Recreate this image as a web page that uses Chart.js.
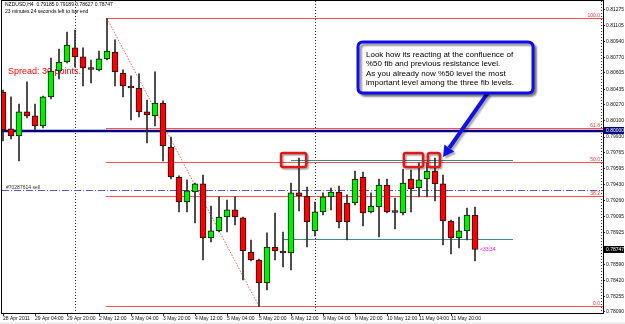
<!DOCTYPE html>
<html><head><meta charset="utf-8">
<script src="https://cdn.jsdelivr.net/npm/chart.js@4.4.0/dist/chart.umd.min.js"></script>
<style>html,body{margin:0;padding:0;background:#fff;overflow:hidden}canvas{display:block}</style>
</head><body>
<canvas id="c" width="625" height="324"></canvas>
<script>
// ---- data (NZDUSD H4) ----
const openP = [0.80405,0.80016,0.79942,0.80195,0.80153,0.80047,0.80353,0.80626,0.80721,0.80869,
0.80774,0.80647,0.80637,0.80753,0.80826,0.80605,0.80468,0.80447,0.80195,0.80153,
0.80289,0.79826,0.79510,0.79247,0.79352,0.79437,0.78868,0.78942,0.79089,0.79163,
0.79079,0.78720,0.78636,0.78394,0.78773,0.78731,0.78710,0.79342,0.79310,0.78942,
0.79142,0.79300,0.79352,0.79236,0.79236,0.79510,0.79142,0.79194,0.79426,0.79142,
0.79131,0.79489,0.79394,0.79489,0.79573,0.79437,0.79047,0.78868,0.78942,0.79110];
const highP = [0.80426,0.80353,0.80279,0.80511,0.80279,0.80363,0.80763,0.80858,0.81037,0.81058,
0.80869,0.80742,0.80837,0.81179,0.80953,0.80637,0.80574,0.80595,0.80321,0.80616,
0.80311,0.79931,0.79521,0.79479,0.79447,0.79531,0.79205,0.79300,0.79268,0.79300,
0.79089,0.78847,0.78647,0.78921,0.79131,0.78931,0.79447,0.79710,0.79405,0.79247,
0.79342,0.79394,0.79415,0.79321,0.79573,0.79563,0.79342,0.79489,0.79489,0.79289,
0.79594,0.79584,0.79658,0.79658,0.79710,0.79531,0.79057,0.79089,0.79184,0.79194];
const lowP = [0.79889,0.79910,0.79679,0.80132,0.80005,0.80026,0.80332,0.80542,0.80711,0.80669,
0.80468,0.80500,0.80626,0.80742,0.80468,0.80353,0.80110,0.80142,0.79868,0.80047,
0.79679,0.79489,0.79142,0.79142,0.79026,0.78636,0.78826,0.78931,0.78931,0.79005,
0.78426,0.78626,0.78147,0.78320,0.78636,0.78563,0.78531,0.79152,0.78773,0.78889,
0.79110,0.79163,0.78973,0.78847,0.79215,0.78994,0.79131,0.78878,0.79131,0.78963,
0.79110,0.79142,0.79300,0.79300,0.79258,0.78794,0.78699,0.78763,0.78847,0.78627];
const closeP = [0.80005,0.79942,0.80195,0.80153,0.80047,0.80353,0.80626,0.80721,0.80900,0.80774,
0.80658,0.80642,0.80753,0.80837,0.80616,0.80468,0.80447,0.80195,0.80163,0.80289,
0.79837,0.79510,0.79247,0.79363,0.79437,0.78868,0.78942,0.79089,0.79163,0.79089,
0.78731,0.78636,0.78394,0.78773,0.78731,0.78710,0.79342,0.79310,0.79036,0.79142,
0.79300,0.79352,0.79036,0.79036,0.79489,0.79131,0.79205,0.79426,0.79142,0.79136,
0.79447,0.79384,0.79479,0.79573,0.79437,0.79047,0.78868,0.78942,0.79110,0.78747];

const xTickIndex = [0,4,8,12,16,20,24,28,32,36,40,44,48,52,56];
const xTickLabels = ["28 Apr 2011","29 Apr 04:00","29 Apr 20:00","2 May 12:00","3 May 04:00",
  "3 May 20:00","4 May 12:00","5 May 04:00","5 May 20:00","6 May 12:00","9 May 04:00",
  "9 May 20:00","10 May 12:00","11 May 04:00","11 May 20:00"];
const yTicks = [0.81275,0.81105,0.80940,0.80770,0.80605,0.80435,0.80270,0.80100,0.79930,0.79765,
  0.79595,0.79430,0.79260,0.79095,0.78925,0.78755,0.78590,0.78420,0.78255,0.78090];

const fibLevels = [0, 38.2, 50, 61.8, 100];
const fibLabels = ["0.0", "38.2", "50.0", "61.8", "100.0"];
const fibHighIndex = 13, fibLowIndex = 32;
const roundLevel = 0.80000;
const sellLevel = 0.79368;
const sellLabel = "#70287614 sell";
const resistanceLevel = 0.79689;
const supportLevel = 0.78857;
const separators = [9, 39, 74.75];
const lastPrice = 0.78747;
const headerLine1 = "NZDUSD,H4  0.79185 0.79189 0.78627 0.78747";
const headerLine2 = "23 minutes 24 seconds left to bar end";
const spreadText = "Spread: 30 points.";
const barTimer = "<33:34";
const calloutLines = ["Look how its reacting at the confluence of",
  "%50 fib and previous resistance level.",
  "As you already now %50 level the most",
  "important level among the three fib levels."];

// annotation geometry in data units (index, price)
const resSegment = [36, 63.75], supSegment = [35, 63.75];
const redBoxes = [[34.75, 37.9], [50.1, 52.5], [53.1, 54.6]];
const redBoxPrice = [0.79763, 0.79615];
const callout = {x0: 44.375, x1: 66.25, top: 0.80932, bottom: 0.80395};
const arrow = {x0: 60.6, y0: 0.80395, x1: 55.0, y1: 0.79721};

const FONT = '"Liberation Sans", Arial, sans-serif';

function rr(ctx, x, y, w, h, r) {
  ctx.beginPath();
  ctx.moveTo(x + r, y); ctx.lineTo(x + w - r, y); ctx.quadraticCurveTo(x + w, y, x + w, y + r);
  ctx.lineTo(x + w, y + h - r); ctx.quadraticCurveTo(x + w, y + h, x + w - r, y + h);
  ctx.lineTo(x + r, y + h); ctx.quadraticCurveTo(x, y + h, x, y + h - r);
  ctx.lineTo(x, y + r); ctx.quadraticCurveTo(x, y, x + r, y); ctx.closePath();
}
function seg(ctx, x0, y0, x1, y1) { ctx.beginPath(); ctx.moveTo(x0, y0); ctx.lineTo(x1, y1); ctx.stroke(); }

const mt4 = {
  id: 'mt4',
  beforeDraw(chart) {
    const c = chart.ctx; c.save(); c.fillStyle = '#fff'; c.fillRect(0, 0, chart.width, chart.height); c.restore();
  },
  beforeDatasetsDraw(chart) {
    const {ctx, chartArea: a, scales: {x, y}} = chart;
    ctx.save();
    ctx.beginPath(); ctx.rect(a.left, a.top, a.right - a.left, a.bottom - a.top); ctx.clip();
    ctx.lineWidth = 1;
    // period separators
    ctx.strokeStyle = '#333'; ctx.setLineDash([1, 2]);
    separators.forEach(i => { const px = Math.round(x.getPixelForValue(i)) + 0.5; seg(ctx, px, a.top, px, a.bottom); });
    // spread text
    ctx.setLineDash([]);
    ctx.font = '9px ' + FONT; ctx.fillStyle = '#ff0000'; ctx.textBaseline = 'middle'; ctx.textAlign = 'left';
    ctx.fillText(spreadText, a.left + 6, a.top + 71);
    // fibonacci
    const fH = highP[fibHighIndex], fL = lowP[fibLowIndex];
    const fx0 = x.getPixelForValue(fibHighIndex) - 1;
    ctx.strokeStyle = '#ff4f4f';
    ctx.font = '5px ' + FONT; ctx.fillStyle = '#ff3030'; ctx.textAlign = 'right'; ctx.textBaseline = 'alphabetic';
    fibLevels.forEach((l, k) => {
      const py = Math.round(y.getPixelForValue(fL + (fH - fL) * l / 100)) + 0.5;
      seg(ctx, fx0, py, a.right, py);
      ctx.fillText(fibLabels[k], a.right - 3, py - 1.5);
    });
    ctx.setLineDash([1.5, 1.5]); ctx.strokeStyle = '#ff5a5a';
    seg(ctx, x.getPixelForValue(fibHighIndex), y.getPixelForValue(fH), x.getPixelForValue(fibLowIndex), y.getPixelForValue(fL));
    // round level (navy)
    ctx.setLineDash([]); ctx.strokeStyle = '#000080'; ctx.lineWidth = 2.5;
    const ny = y.getPixelForValue(roundLevel) + 0.5;
    seg(ctx, a.left, ny, a.right, ny);
    // sell order line
    ctx.lineWidth = 1; ctx.strokeStyle = '#5a5ac0'; ctx.setLineDash([7, 2, 1, 2]);
    const sy = Math.round(y.getPixelForValue(sellLevel)) + 0.5;
    seg(ctx, a.left, sy, a.right, sy);
    ctx.setLineDash([]);
    ctx.fillStyle = '#333'; ctx.textAlign = 'left';
    ctx.fillText(sellLabel, a.left + 4, sy - 1.5);
    // resistance / support (teal)
    ctx.strokeStyle = '#3f8c8c';
    const ry = Math.round(y.getPixelForValue(resistanceLevel)) + 0.5;
    seg(ctx, x.getPixelForValue(resSegment[0]), ry, x.getPixelForValue(resSegment[1]), ry);
    const uy = Math.round(y.getPixelForValue(supportLevel)) + 0.5;
    seg(ctx, x.getPixelForValue(supSegment[0]), uy, x.getPixelForValue(supSegment[1]), uy);
    ctx.restore();
  },
  afterDatasetsDraw(chart) {
    const {ctx, chartArea: a, scales: {x, y}} = chart;
    ctx.save();
    // red boxes
    const bt = y.getPixelForValue(redBoxPrice[0]), bb = y.getPixelForValue(redBoxPrice[1]);
    redBoxes.forEach(b => {
      const x0 = x.getPixelForValue(b[0]), x1 = x.getPixelForValue(b[1]);
      ctx.save();
      ctx.shadowColor = 'rgba(0,0,0,0.35)'; ctx.shadowOffsetX = 1.5; ctx.shadowOffsetY = 1.5; ctx.shadowBlur = 1.5;
      ctx.strokeStyle = '#e01818'; ctx.lineWidth = 2.5;
      rr(ctx, x0, bt, x1 - x0, bb - bt, 2); ctx.stroke();
      ctx.restore();
    });
    // arrow
    const ax0 = x.getPixelForValue(arrow.x0), ay0 = y.getPixelForValue(arrow.y0);
    const ax1 = x.getPixelForValue(arrow.x1), ay1 = y.getPixelForValue(arrow.y1);
    const ang = Math.atan2(ay1 - ay0, ax1 - ax0);
    const hl = 11, hw = 6;
    const bx = ax1 - hl * Math.cos(ang), by = ay1 - hl * Math.sin(ang);
    ctx.save();
    ctx.shadowColor = 'rgba(0,0,0,0.35)'; ctx.shadowOffsetX = 2; ctx.shadowOffsetY = 2; ctx.shadowBlur = 2;
    ctx.strokeStyle = '#1010e8'; ctx.lineWidth = 4; ctx.lineCap = 'butt';
    seg(ctx, ax0, ay0, bx, by);
    ctx.fillStyle = '#1010e8';
    ctx.beginPath(); ctx.moveTo(ax1, ay1);
    ctx.lineTo(bx + hw * Math.sin(ang), by - hw * Math.cos(ang));
    ctx.lineTo(bx - hw * Math.sin(ang), by + hw * Math.cos(ang));
    ctx.closePath(); ctx.fill();
    ctx.restore();
    // callout box
    const cx0 = x.getPixelForValue(callout.x0), cx1 = x.getPixelForValue(callout.x1);
    const cy0 = y.getPixelForValue(callout.top), cy1 = y.getPixelForValue(callout.bottom);
    ctx.save();
    ctx.shadowColor = 'rgba(0,0,0,0.4)'; ctx.shadowOffsetX = 2.5; ctx.shadowOffsetY = 2.5; ctx.shadowBlur = 2;
    ctx.fillStyle = '#fff'; ctx.strokeStyle = '#0c0cee'; ctx.lineWidth = 3;
    rr(ctx, cx0, cy0, cx1 - cx0, cy1 - cy0, 5); ctx.fill(); ctx.stroke();
    ctx.restore();
    ctx.fillStyle = '#000'; ctx.font = '8px ' + FONT; ctx.textAlign = 'left'; ctx.textBaseline = 'middle';
    calloutLines.forEach((t, k) => ctx.fillText(t, cx0 + 8, cy0 + 13 + k * 9.3));
    // bar timer
    ctx.fillStyle = '#ff00ff'; ctx.font = '5px ' + FONT;
    ctx.fillText(barTimer, x.getPixelForValue(openP.length - 1) + 5, y.getPixelForValue(lastPrice));
    ctx.restore();
  },
  afterDraw(chart) {
    const {ctx, chartArea: a, scales: {y}} = chart;
    ctx.save();
    // frame
    ctx.strokeStyle = '#000'; ctx.lineWidth = 1;
    ctx.strokeRect(a.left - 0.5, a.top - 0.5, a.right - a.left + 1, a.bottom - a.top + 1);
    // header
    ctx.fillStyle = '#000'; ctx.font = '5px ' + FONT; ctx.textAlign = 'left'; ctx.textBaseline = 'middle';
    ctx.fillText(headerLine1, a.left + 3, a.top + 4);
    ctx.fillText(headerLine2, a.left + 3, a.top + 10.5);
    // highlighted axis labels
    const tags = [[roundLevel, '#000080'], [lastPrice, '#000000']];
    tags.forEach(([v, col]) => {
      const py = y.getPixelForValue(v);
      ctx.fillStyle = col; ctx.fillRect(a.right + 1, py - 3.5, chart.width - a.right - 2, 7);
      ctx.fillStyle = '#fff'; ctx.fillText(v.toFixed(5), a.right + 3, py + 0.3);
    });
    // window strip at bottom
    ctx.fillStyle = '#efefef'; ctx.fillRect(0, chart.height - 2, chart.width, 2);
    ctx.restore();
  }
};

const bodies = openP.map((o, i) => ({x: i, y: [o, closeP[i]]}));
const wicks = lowP.map((l, i) => ({x: i, y: [l, highP[i]]}));
const bodyColors = openP.map((o, i) => closeP[i] > o ? '#00f000' : '#ff0000');

new Chart(document.getElementById('c'), {
  type: 'bar',
  data: {
    datasets: [
      {label: 'wick', data: wicks, backgroundColor: '#2a2a2a', borderWidth: 0, barThickness: 1, grouped: false, order: 2},
      {label: 'body', data: bodies, backgroundColor: bodyColors, borderColor: '#151515', borderWidth: 1,
       borderSkipped: false, barThickness: 6, minBarLength: 2, grouped: false, order: 1}
    ]
  },
  options: {
    responsive: false, animation: false, devicePixelRatio: 1,
    layout: {padding: {top: 1, left: 2, right: 0, bottom: 0}},
    plugins: {legend: {display: false}, tooltip: {enabled: false}},
    scales: {
      x: {
        type: 'linear', min: -0.125, max: 75, offset: false,
        afterBuildTicks: s => { s.ticks = xTickIndex.map(v => ({value: v})); },
        afterFit: s => { s.height = 11; s.paddingLeft = 0; s.paddingRight = 0; },
        ticks: {autoSkip: false, maxRotation: 0, minRotation: 0, align: 'start', padding: 0,
          font: {size: 5, family: FONT}, color: '#111', callback: (v, i) => xTickLabels[i]},
        grid: {drawOnChartArea: false, offset: false, drawTicks: true, tickLength: 3, color: '#333'},
        border: {display: true, color: '#000'}
      },
      y: {
        type: 'linear', position: 'right', min: 0.78078, max: 0.81363,
        afterBuildTicks: s => { s.ticks = yTicks.map(v => ({value: v})); },
        afterFit: s => { s.width = 22; s.paddingTop = 0; s.paddingBottom = 0; },
        ticks: {autoSkip: false, padding: 1, font: {size: 5, family: FONT}, color: '#111',
          callback: v => Number(v).toFixed(5)},
        grid: {drawOnChartArea: false, drawTicks: true, tickLength: 2, color: '#333'},
        border: {display: true, color: '#000'}
      }
    }
  },
  plugins: [mt4]
});
</script>
</body></html>
